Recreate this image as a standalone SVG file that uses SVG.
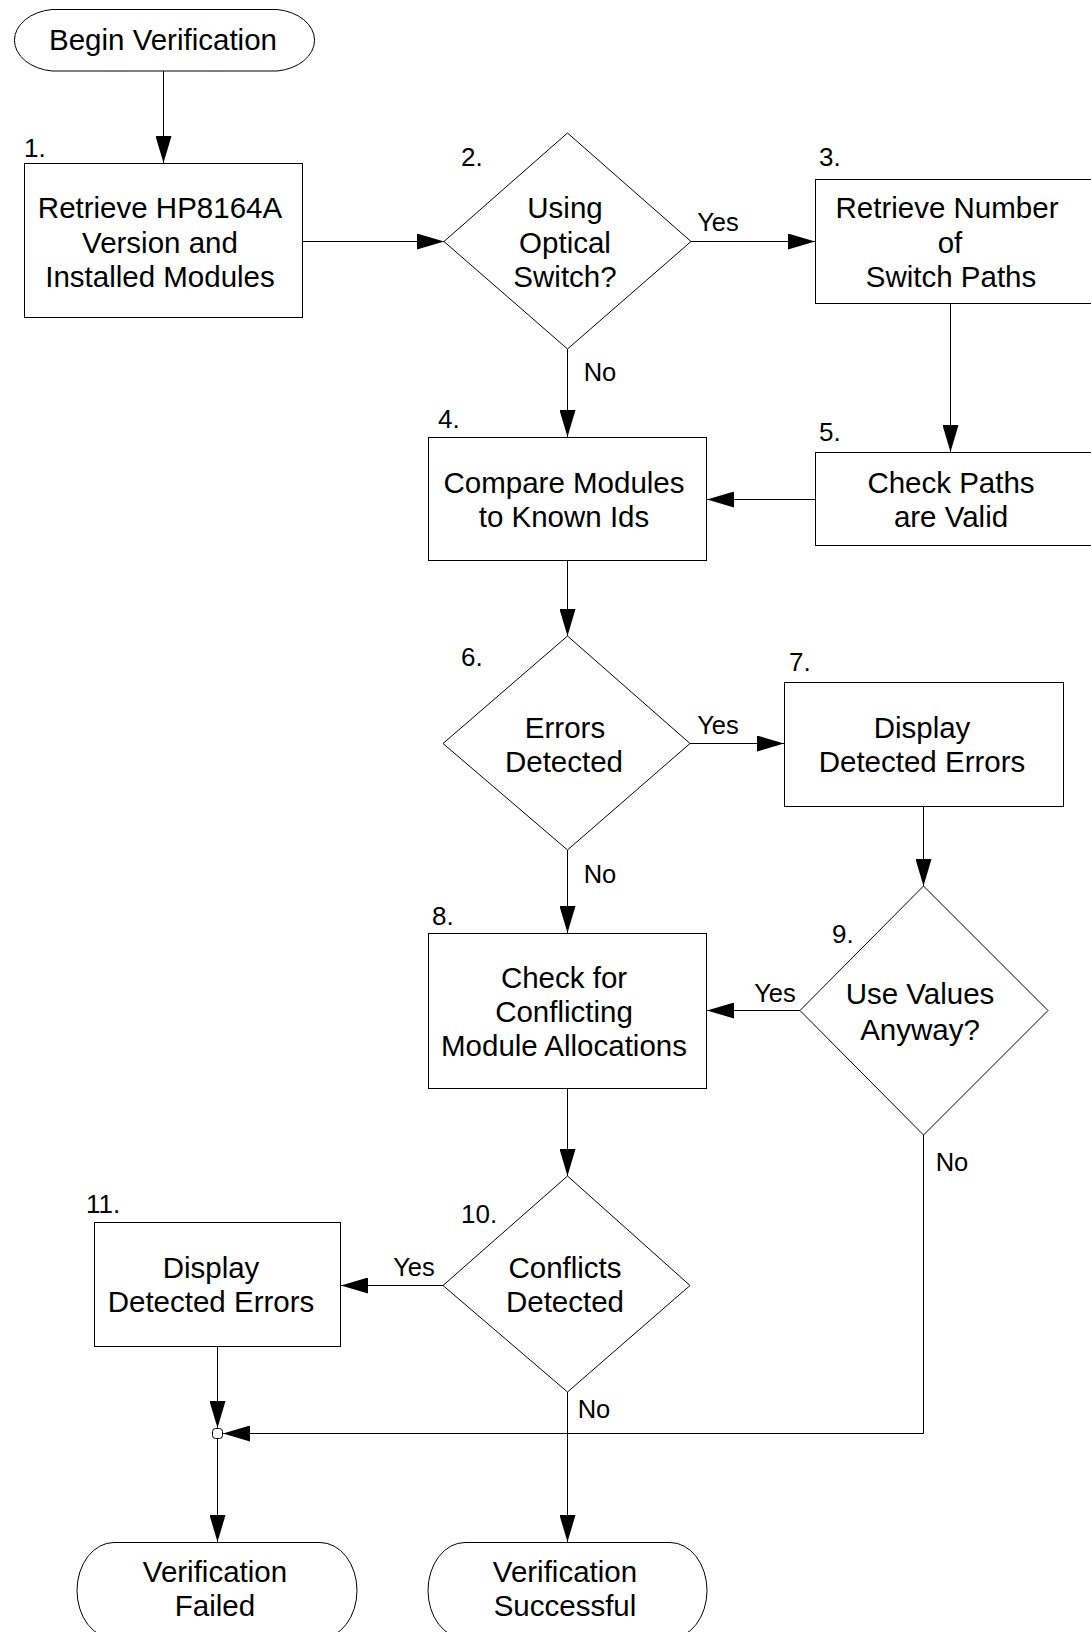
<svg xmlns="http://www.w3.org/2000/svg" width="1091" height="1632" viewBox="0 0 1091 1632">
<defs>
<marker id="ah" markerUnits="userSpaceOnUse" viewBox="0 0 27 16" refX="27" refY="8" markerWidth="27" markerHeight="16" orient="auto">
<path d="M0,0 L27,8 L0,16 Z" fill="#000"/>
</marker>
</defs>
<style>
.shape{fill:#fff;stroke:#000;stroke-width:1}
.t{font-family:"Liberation Sans",Arial,sans-serif;font-size:29.5px;fill:#000;text-anchor:middle}
.n{font-family:"Liberation Sans",Arial,sans-serif;font-size:26px;fill:#000}
.l{font-family:"Liberation Sans",Arial,sans-serif;font-size:25.5px;fill:#000;text-anchor:middle}
.c{fill:none;stroke:#000;stroke-width:1;marker-end:url(#ah)}
</style>
<rect width="1091" height="1632" fill="#fff"/>

<g id="connectors">
<path class="c" d="M163.5,71 V163"/>
<path class="c" d="M303,241.5 H444"/>
<path class="c" d="M691,241.5 H815"/>
<path class="c" d="M567.5,349 V437"/>
<path class="c" d="M950.5,304 V452"/>
<path class="c" d="M815,499.5 H707"/>
<path class="c" d="M567.5,561 V636"/>
<path class="c" d="M690,743.5 H784"/>
<path class="c" d="M567.5,850 V933"/>
<path class="c" d="M923.5,807 V886"/>
<path class="c" d="M800,1010.5 H707"/>
<path class="c" d="M567.5,1089 V1176"/>
<path class="c" d="M443,1285.5 H341"/>
<path class="c" d="M567.5,1392 V1542"/>
<path class="c" d="M217.5,1347 V1428"/>
<path class="c" d="M923.5,1135 V1433.5 H223"/>
<path class="c" d="M217.5,1438 V1542"/>
<text class="l" x="718" y="231">Yes</text>
<text class="l" x="600" y="381">No</text>
<text class="l" x="718" y="734">Yes</text>
<text class="l" x="600" y="883">No</text>
<text class="l" x="775" y="1002">Yes</text>
<text class="l" x="952" y="1171">No</text>
<text class="l" x="414" y="1276">Yes</text>
<text class="l" x="594" y="1418">No</text>
</g>

<g id="begin">
<path class="shape" d="M52,9.5 H277 A43,31 0 0 1 277,71 H52 A43,31 0 0 1 52,9.5 Z"/>
<text class="t" x="163" y="50">Begin Verification</text>
</g>

<g id="step1">
<rect class="shape" x="24.5" y="163.5" width="278" height="154"/>
<text class="n" x="24" y="157">1.</text>
<text class="t" x="160" y="218">Retrieve HP8164A</text>
<text class="t" x="160" y="252.5">Version and</text>
<text class="t" x="160" y="287">Installed Modules</text>
</g>

<g id="step2">
<path class="shape" d="M567.5,133 L691,241.5 L567.5,349 L444,241.5 Z"/>
<text class="n" x="461" y="166">2.</text>
<text class="t" x="565" y="218">Using</text>
<text class="t" x="565" y="252.5">Optical</text>
<text class="t" x="565" y="287">Switch?</text>
</g>

<g id="step3">
<rect class="shape" x="815.5" y="179.5" width="290" height="124"/>
<text class="n" x="819" y="166">3.</text>
<text class="t" x="947" y="218">Retrieve Number</text>
<text class="t" x="950" y="252.5">of</text>
<text class="t" x="951" y="287">Switch Paths</text>
</g>

<g id="step4">
<rect class="shape" x="428.5" y="437.5" width="278" height="123"/>
<text class="n" x="438" y="428">4.</text>
<text class="t" x="564" y="493">Compare Modules</text>
<text class="t" x="564" y="527">to Known Ids</text>
</g>

<g id="step5">
<rect class="shape" x="815.5" y="452.5" width="290" height="93"/>
<text class="n" x="819" y="441">5.</text>
<text class="t" x="951" y="493">Check Paths</text>
<text class="t" x="951" y="527">are Valid</text>
</g>

<g id="step6">
<path class="shape" d="M567.5,636 L690,743.5 L567.5,850 L443,743.5 Z"/>
<text class="n" x="461" y="666">6.</text>
<text class="t" x="565" y="738">Errors</text>
<text class="t" x="564" y="772">Detected</text>
</g>

<g id="step7">
<rect class="shape" x="784.5" y="682.5" width="279" height="124"/>
<text class="n" x="789" y="671">7.</text>
<text class="t" x="922" y="738">Display</text>
<text class="t" x="922" y="772">Detected Errors</text>
</g>

<g id="step8">
<rect class="shape" x="428.5" y="933.5" width="278" height="155"/>
<text class="n" x="432" y="925">8.</text>
<text class="t" x="564" y="988">Check for</text>
<text class="t" x="564" y="1022">Conflicting</text>
<text class="t" x="564" y="1056">Module Allocations</text>
</g>

<g id="step9">
<path class="shape" d="M923.5,886 L1048,1010.5 L923.5,1135 L800,1010.5 Z"/>
<text class="n" x="832" y="943">9.</text>
<text class="t" x="920" y="1004">Use Values</text>
<text class="t" x="920" y="1040">Anyway?</text>
</g>

<g id="step10">
<path class="shape" d="M567.5,1176 L690,1285.5 L567.5,1392 L443,1285.5 Z"/>
<text class="n" x="461" y="1223">10.</text>
<text class="t" x="565" y="1278">Conflicts</text>
<text class="t" x="565" y="1312">Detected</text>
</g>

<g id="step11">
<rect class="shape" x="94.5" y="1222.5" width="246" height="124"/>
<text class="n" x="86" y="1213">11.</text>
<text class="t" x="211" y="1278">Display</text>
<text class="t" x="211" y="1312">Detected Errors</text>
</g>

<g id="junction">
<rect class="shape" x="212.5" y="1428.5" width="10" height="10" rx="3" ry="3"/>
</g>

<g id="failed">
<path class="shape" d="M114,1542.5 H320 A37,48 0 0 1 320,1638.5 H114 A37,48 0 0 1 114,1542.5 Z"/>
<text class="t" x="215" y="1582">Verification</text>
<text class="t" x="215" y="1616">Failed</text>
</g>

<g id="successful">
<path class="shape" d="M465,1542.5 H670 A37,48 0 0 1 670,1638.5 H465 A37,48 0 0 1 465,1542.5 Z"/>
<text class="t" x="565" y="1582">Verification</text>
<text class="t" x="565" y="1616">Successful</text>
</g>
</svg>
